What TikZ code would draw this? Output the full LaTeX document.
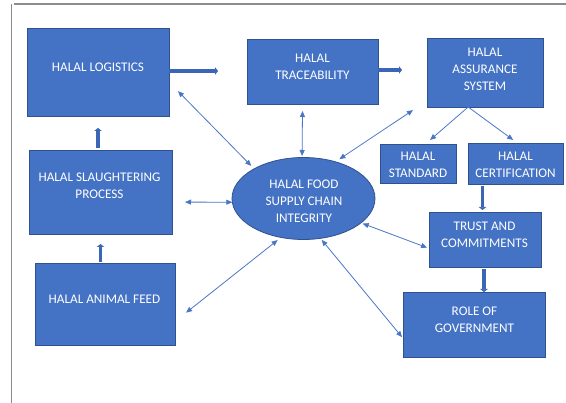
\documentclass[tikz,border=0pt]{standalone}
\usepackage{fontspec}
\setmainfont{Carlito}
\usetikzlibrary{arrows.meta,shapes.geometric}
\definecolor{boxfill}{HTML}{4472C4}
\definecolor{boxedge}{HTML}{2F528F}
\definecolor{linkblue}{HTML}{4A76C6}
\definecolor{bigblue}{HTML}{3A66B5}
\definecolor{framegray}{HTML}{8C8C8C}
\begin{document}
\begin{tikzpicture}[x=1pt,y=-1pt,
    box/.style={rectangle, draw=boxedge, fill=boxfill, line width=0.8pt, inner sep=0pt, outer sep=0pt},
    hubshape/.style={ellipse, draw=boxedge, fill=boxfill, line width=0.8pt, inner sep=0pt, outer sep=0pt},
    lbl/.style={text=white, align=center, inner sep=0pt, font=\fontsize{13.2}{17}\selectfont},
    link/.style={draw=linkblue, line width=0.8pt, {Triangle[length=6pt,width=5pt]}-{Triangle[length=6pt,width=5pt]}},
    onelink/.style={draw=linkblue, line width=0.8pt, -{Triangle[length=6pt,width=5pt]}},
    bigarrow/.style={draw=bigblue, line width=3.5pt, -{Triangle[length=3pt,width=7.5pt]}}]
    \useasboundingbox (0,0) rectangle (566,403);

    % Drawing frame
    \draw [framegray, line width=1.5pt] (11.5,403) -- (11.5,4);%
    \draw [framegray, line width=1.5pt] (14,4) -- (566,4);%

    % Drawing boxes
    \node [box, minimum width=142pt, minimum height=88pt] (logistics) at (98,72) {};%
    \node [box, minimum width=131pt, minimum height=65pt] (trace) at (312.5,71.5) {};%
    \node [box, minimum width=116pt, minimum height=69pt] (assure) at (485,72.5) {};%
    \node [box, minimum width=76pt, minimum height=39pt] (standard) at (418,163.5) {};%
    \node [box, minimum width=95pt, minimum height=41pt] (cert) at (515.5,163.5) {};%
    \node [box, minimum width=143pt, minimum height=84pt] (slaughter) at (100.5,192) {};%
    \node [box, minimum width=140pt, minimum height=82pt] (feed) at (105,304) {};%
    \node [box, minimum width=112pt, minimum height=55pt] (trust) at (485,239.5) {};%
    \node [box, minimum width=142pt, minimum height=65pt] (gov) at (474,324.5) {};%

    % Drawing hub ellipse
    \node [hubshape, minimum width=143pt, minimum height=82pt] (hub) at (303.5,198.5) {};%

    % Marking box texts
    \node [lbl] (logistics-lbl) at (98,67.5) {HALAL LOGISTICS};%
    \node [lbl] (trace-lbl) at (312.5,66.5) {HALAL\\TRACEABILITY};%
    \node [lbl] (assure-lbl) at (485,69.5) {HALAL\\ASSURANCE\\SYSTEM};%
    \node [lbl] (standard-lbl) at (418,164.5) {HALAL\\STANDARD};%
    \node [lbl] (cert-lbl) at (515.5,164.5) {HALAL\\CERTIFICATION};%
    \node [lbl] (slaughter-lbl) at (99.5,186) {HALAL SLAUGHTERING\\PROCESS};%
    \node [lbl] (feed-lbl) at (104.5,299.5) {HALAL ANIMAL FEED};%
    \node [lbl] (trust-lbl) at (484.5,235) {TRUST AND\\COMMITMENTS};%
    \node [lbl] (gov-lbl) at (474.5,320) {ROLE OF\\GOVERNMENT};%

    % Marking hub text (cut at the bottom)
    \begin{scope}
    \clip (230,160) rectangle (378,221.5);
    \node [lbl] (hub-lbl) at (304,201.5) {HALAL FOOD\\SUPPLY CHAIN\\INTEGRITY};%
    \end{scope}

    % Drawing thick arrows
    \draw [bigarrow, shorten >=29pt] ([yshift=1pt]logistics.east) -- ([yshift=1pt]logistics.east -| trace.west);%
    \draw [bigarrow, shorten >=25pt] ([yshift=1.5pt]trace.east) -- ([yshift=1.5pt]trace.east -| assure.west);%
    \draw [bigarrow, shorten <=2pt, shorten >=12pt] (slaughter.north -| logistics.south) -- (logistics.south);%
    \draw [bigarrow, shorten <=1pt, shorten >=10pt] (slaughter.south |- feed.north) -- (slaughter.south);%
    \draw [bigarrow, shorten <=2pt, shorten >=2pt] ([xshift=-2.5pt]trust.north |- cert.south) -- ([xshift=-2.5pt]trust.north);%
    \draw [bigarrow, shorten <=2pt, shorten >=0pt] ([xshift=-1pt]trust.south) -- ([xshift=-1pt]trust.south |- gov.north);%

    % Drawing links to the hub
    \draw [link, shorten <=12.8pt, shorten >=4.1pt] (logistics.-8.7) -- (hub.149.2);%
    \draw [link, shorten <=7pt, shorten >=1.5pt] (trace.-107.9) -- (hub.92.1);%
    \draw [link, shorten <=16.8pt, shorten >=4.8pt] (assure.-154.1) -- (hub.49.4);%
    \draw [link, shorten <=13pt, shorten >=0pt] (slaughter.-8) -- (hub.-177.2);%
    \draw [link, shorten <=14.1pt, shorten >=4.3pt] (feed.-14.3) -- (hub.-120.8);%
    \draw [link, shorten <=1.8pt, shorten >=2.1pt] (hub.-23.7) -- (trust.-171.7);%
    \draw [link, shorten <=2pt, shorten >=1.5pt] (hub.-67.9) -- (gov.-169.1);%

    % Drawing links from assurance system
    \draw [onelink, shorten >=6.1pt] (assure.-116.2) -- (standard.69.2);%
    \draw [onelink, shorten >=5.1pt] (assure.-116.2) -- (cert.85.5);%
\end{tikzpicture}
\end{document}
